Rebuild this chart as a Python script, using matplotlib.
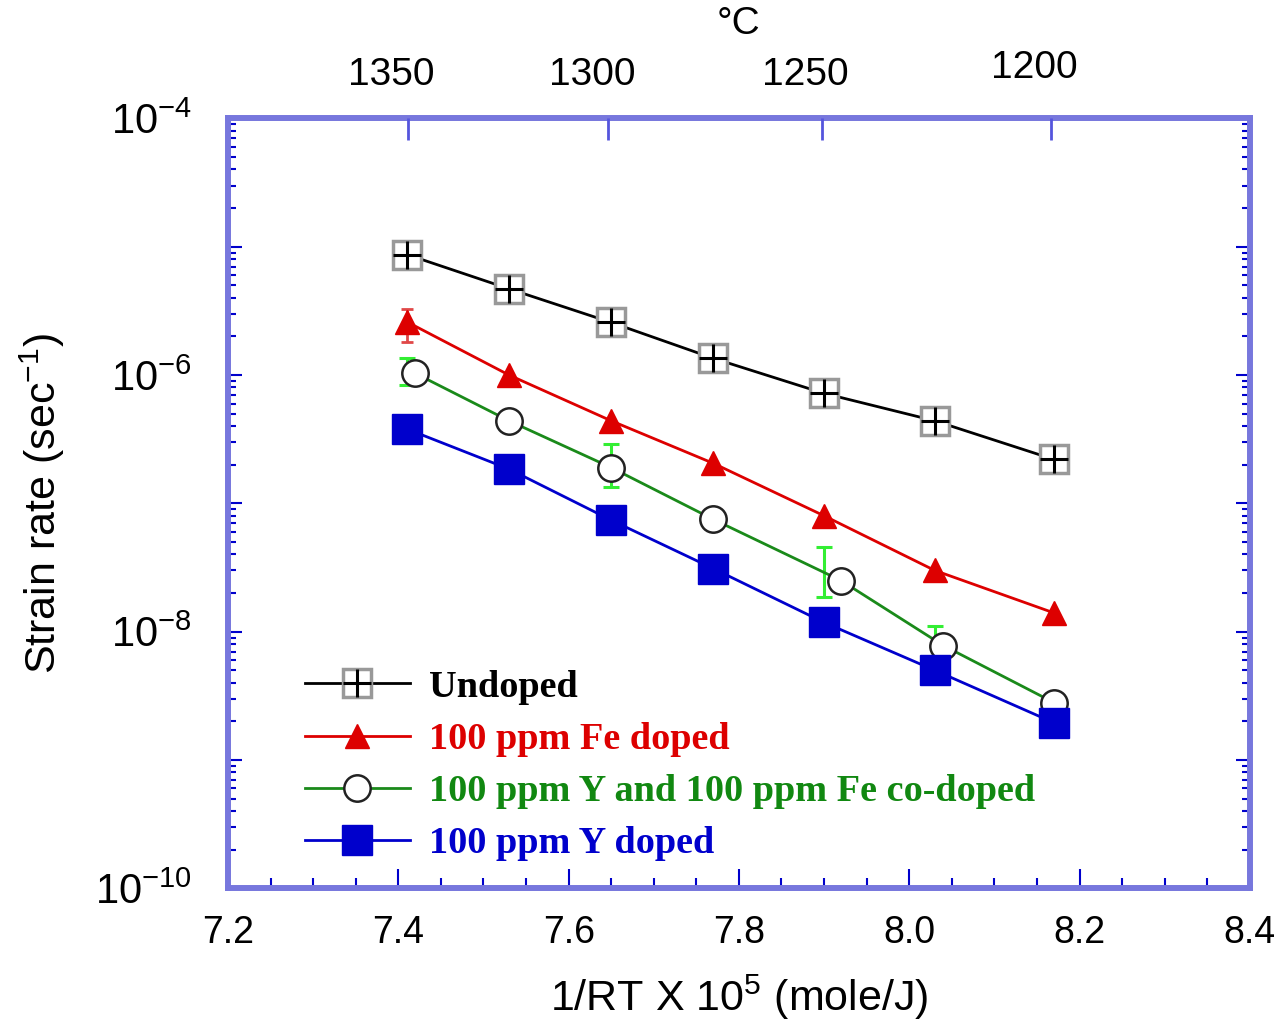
import math
import matplotlib
matplotlib.use("Agg")
import matplotlib.pyplot as plt
import matplotlib.ticker as mticker
import matplotlib.transforms as mtransforms
from matplotlib.legend_handler import HandlerTuple

plt.rcParams["font.family"] = ["Liberation Sans", "DejaVu Sans"]
plt.rcParams["mathtext.fontset"] = "custom"
plt.rcParams["mathtext.rm"] = "Liberation Sans"
plt.rcParams["mathtext.it"] = "Liberation Sans:italic"
plt.rcParams["mathtext.bf"] = "Liberation Sans:bold"

# 1/RT x 10^5 (mole/J)
x_main = [7.41, 7.53, 7.65, 7.77, 7.90, 8.03, 8.17]
x_codoped = [7.42, 7.53, 7.65, 7.77, 7.92, 8.04, 8.17]

undoped = [8.7e-6, 4.7e-6, 2.57e-6, 1.35e-6, 7.2e-7, 4.4e-7, 2.2e-7]
fe_doped = [2.6e-6, 1.0e-6, 4.4e-7, 2.05e-7, 8.0e-8, 3.0e-8, 1.4e-8]
co_doped = [1.03e-6, 4.4e-7, 1.9e-7, 7.5e-8, 2.5e-8, 7.8e-9, 2.8e-9]
y_doped = [3.8e-7, 1.85e-7, 7.4e-8, 3.1e-8, 1.18e-8, 5.0e-9, 1.95e-9]

# error bars
fe_err_x = [7.41]
fe_err_lo = [1.8e-6]
fe_err_hi = [3.3e-6]
co_err_x = [7.41, 7.65, 7.90, 8.03]
co_err_lo = [8.3e-7, 1.33e-7, 1.85e-8, 5.6e-9]
co_err_hi = [1.37e-6, 2.9e-7, 4.6e-8, 1.1e-8]

# top axis (deg C)
top_ticks = [7.411, 7.646, 7.897, 8.166]
top_labels = ["1350", "1300", "1250", "1200"]

labels = ["Undoped", "100 ppm Fe doped", "100 ppm Y and 100 ppm Fe co-doped", "100 ppm Y doped"]
colors = ["black", "#dd0000", "#118811", "#0000cc"]

spine_c = "#7777dd"
tick_c = "#0000cc"

fig = plt.figure(figsize=(12.74, 10.21), dpi=100)
ax = fig.add_axes([0.179, 0.130, 0.802, 0.754])

ax.plot(x_main, undoped, color="black", lw=2, zorder=3)
sq, = ax.plot(x_main, undoped, ls="none", marker="s", ms=20, mfc="white",
              mec="#999999", mew=2.5, zorder=4)
pl, = ax.plot(x_main, undoped, ls="none", marker="+", ms=20, mec="black",
              mew=2.2, zorder=5)
ln_un, = ax.plot([], [], color="black", lw=2)

ax.errorbar(fe_err_x, [fe_doped[0]],
            yerr=[[fe_doped[0] - fe_err_lo[0]], [fe_err_hi[0] - fe_doped[0]]],
            fmt="none", ecolor="#e04848", elinewidth=2, capsize=4, capthick=2, zorder=3)
fe, = ax.plot(x_main, fe_doped, color="#dd0000", lw=2, marker="^", ms=17,
              mfc="#dd0000", mec="#dd0000", zorder=4)

co_mid = [(a * b) ** 0.5 for a, b in zip(co_err_lo, co_err_hi)]
ax.errorbar(co_err_x, co_mid,
            yerr=[[m - lo for m, lo in zip(co_mid, co_err_lo)],
                  [hi - m for m, hi in zip(co_mid, co_err_hi)]],
            fmt="none", ecolor="#33ee33", elinewidth=2.2, capsize=6, capthick=2.2, zorder=4)
co, = ax.plot(x_codoped, co_doped, color="#1a8a1a", lw=2, marker="o", ms=19,
              mfc="white", mec="#222222", mew=1.8, zorder=5)

yd, = ax.plot(x_main, y_doped, color="#0000cc", lw=2, marker="s", ms=22,
              mfc="#0000cc", mec="#0000cc", zorder=6)

ax.set_yscale("log")
ax.set_xlim(7.2, 8.4)
ax.set_ylim(1e-10, 1e-4)

ax.xaxis.set_major_locator(mticker.MultipleLocator(0.2))
ax.xaxis.set_minor_locator(mticker.MultipleLocator(0.05))
ax.xaxis.set_major_formatter(mticker.FormatStrFormatter("%.1f"))

ax.yaxis.set_major_locator(mticker.FixedLocator([10.0 ** e for e in range(-10, -3)]))
ax.yaxis.set_minor_locator(mticker.LogLocator(base=10, subs=range(2, 10), numticks=20))


def ylab(v, pos):
    e = int(round(math.log10(v)))
    return r"$10^{%d}$" % e if e % 2 == 0 else ""


ax.yaxis.set_major_formatter(mticker.FuncFormatter(ylab))
ax.yaxis.set_minor_formatter(mticker.NullFormatter())

for s in ax.spines.values():
    s.set_color(spine_c)
    s.set_linewidth(4.3)

ax.tick_params(axis="x", which="major", direction="in", length=14, width=1.5,
               color=tick_c, labelsize=27, pad=19, top=False)
ax.tick_params(axis="x", which="minor", direction="in", length=7, width=1.5,
               color=tick_c, top=False)
ax.tick_params(axis="y", which="major", direction="in", length=10, width=1.5,
               color=tick_c, labelsize=30, pad=26, right=True)
ax.tick_params(axis="y", which="minor", direction="in", length=6, width=1.5,
               color=tick_c, right=True)

ax.set_xlabel(r"1/RT X 10$^5$ (mole/J)", fontsize=31, labelpad=16)
ax.set_ylabel(r"Strain rate (sec$^{-1}$)", fontsize=31, labelpad=20)

# keep the last bottom label inside the canvas
fig.canvas.draw()
xt = ax.get_xticklabels()
shift = mtransforms.ScaledTranslation(-5 / 100, 0, fig.dpi_scale_trans)
xt[-1].set_transform(xt[-1].get_transform() + shift)

ax2 = ax.twiny()
ax2.set_xlim(ax.get_xlim())
ax2.set_xticks(top_ticks)
ax2.set_xticklabels(top_labels)
ax2.xaxis.set_minor_locator(mticker.NullLocator())
ax2.tick_params(axis="x", direction="in", length=16, width=2, color="#5555dd",
                labelsize=28, pad=18)
for s in ax2.spines.values():
    s.set_visible(False)
ax2.set_xlabel("°C", fontsize=28, labelpad=12)
for i, t in enumerate(ax2.get_xticklabels()):
    dy = 7 if top_labels[i] == "1200" else 0
    off = mtransforms.ScaledTranslation(-16 / 100, dy / 100, fig.dpi_scale_trans)
    t.set_transform(t.get_transform() + off)

leg = ax.legend([(ln_un, sq, pl), fe, co, yd], labels,
                handler_map={tuple: HandlerTuple(ndivide=1)},
                loc="lower left", bbox_to_anchor=(0.075, 0.035),
                frameon=False, borderpad=0, borderaxespad=0,
                handlelength=2.75, handletextpad=0.5, labelspacing=0.45,
                prop={"family": "Liberation Serif", "weight": "bold", "size": 27.5})
for txt, c in zip(leg.get_texts(), colors):
    txt.set_color(c)

fig.savefig("out.png", dpi=100)
